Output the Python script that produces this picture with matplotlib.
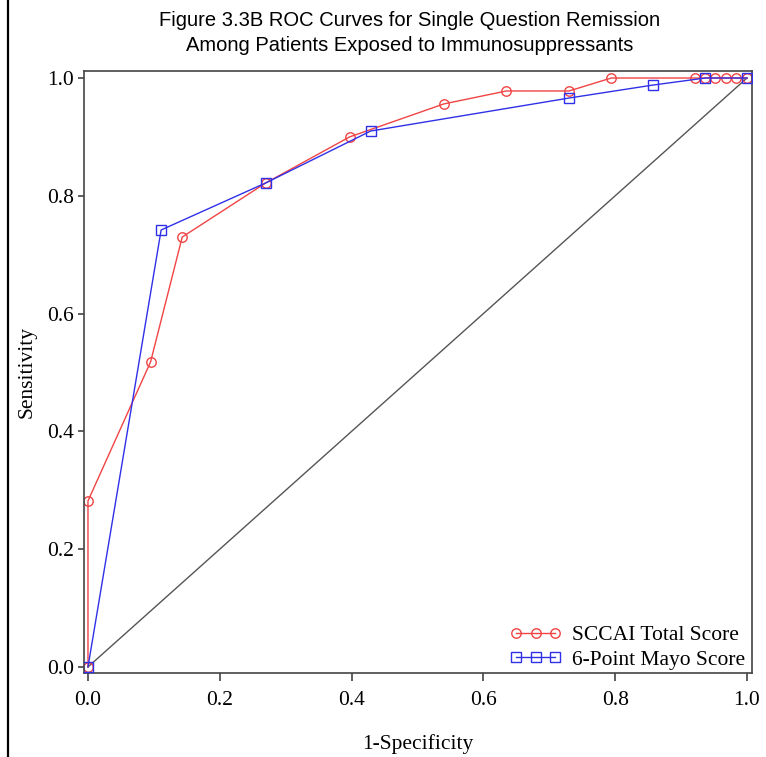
"""
ROC curves for single question remission, immunosuppressant-exposed patients.
"""
import matplotlib
matplotlib.use('Agg')
import matplotlib.pyplot as plt
from matplotlib.lines import Line2D

# SCCAI Total Score curve (1-specificity, sensitivity)
sccai_fpr = [0.0, 0.0, 0.095, 0.143, 0.270, 0.397, 0.540, 0.635, 0.730, 0.794,
             0.921, 0.937, 0.952, 0.968, 0.984, 1.0]
sccai_tpr = [0.0, 0.282, 0.518, 0.730, 0.822, 0.900, 0.956, 0.978, 0.978, 1.0,
             1.0, 1.0, 1.0, 1.0, 1.0, 1.0]

# 6-Point Mayo Score curve
mayo_fpr = [0.0, 0.111, 0.270, 0.429, 0.730, 0.857, 0.937, 1.0]
mayo_tpr = [0.0, 0.742, 0.822, 0.910, 0.966, 0.988, 1.0, 1.0]

ticks = [0.0, 0.2, 0.4, 0.6, 0.8, 1.0]
tick_labels = ['0.0', '0.2', '0.4', '0.6', '0.8', '1.0']

serif = ['Liberation Serif', 'DejaVu Serif']
sans = ['Liberation Sans', 'DejaVu Sans']
fs = 15.5

fig = plt.figure(figsize=(7.66, 7.57), dpi=100, facecolor='white')
ax = fig.add_axes([0.1097, 0.1110, 0.8720, 0.7952])

# reference diagonal
ax.plot([0, 1], [0, 1], color='#555555', lw=1.0, zorder=1)

ax.plot(sccai_fpr, sccai_tpr, color='#f04444', lw=1.0, marker='o', ms=6.8,
        mfc='none', mec='#f04444', mew=1.0, label='SCCAI Total Score', zorder=2)
ax.plot(mayo_fpr, mayo_tpr, color='#3030e8', lw=1.0, marker='s', ms=6.8,
        mfc='none', mec='#3030e8', mew=1.0, label='6-Point Mayo Score', zorder=3)

ax.set_xlim(-0.006, 1.0076)
ax.set_ylim(-0.0102, 1.0119)
ax.set_xticks(ticks)
ax.set_xticklabels(tick_labels, fontfamily=serif, fontsize=fs)
ax.set_yticks(ticks)
ax.set_yticklabels(tick_labels, fontfamily=serif, fontsize=fs)
ax.tick_params(axis='x', direction='out', length=6, width=1.2, color='#444444', pad=7)
ax.tick_params(axis='y', direction='out', length=4, width=1.2, color='#444444', pad=3)

for sp in ax.spines.values():
    sp.set_color('#444444')
    sp.set_linewidth(1.2)

ax.set_xlabel('1-Specificity', fontfamily=serif, fontsize=fs, labelpad=17)
ax.set_ylabel('Sensitivity', fontfamily=serif, fontsize=fs, labelpad=8)

ax.legend(loc='lower right', bbox_to_anchor=(0.995, 0.0), frameon=False,
          numpoints=3, handlelength=2.4, prop={'family': serif, 'size': fs},
          borderaxespad=0.0, borderpad=0.15, labelspacing=0.2, handletextpad=0.5)

fig.text(0.535, 0.956, 'Figure 3.3B ROC Curves for Single Question Remission\n'
         'Among Patients Exposed to Immunosuppressants',
         ha='center', va='center', fontfamily=sans, fontsize=14.5, linespacing=1.4)

# left border line of the original image
fig.add_artist(Line2D([0.0104, 0.0104], [0, 1], transform=fig.transFigure,
                      color='black', lw=1.6))

fig.savefig('out.png', dpi=100, facecolor='white')
